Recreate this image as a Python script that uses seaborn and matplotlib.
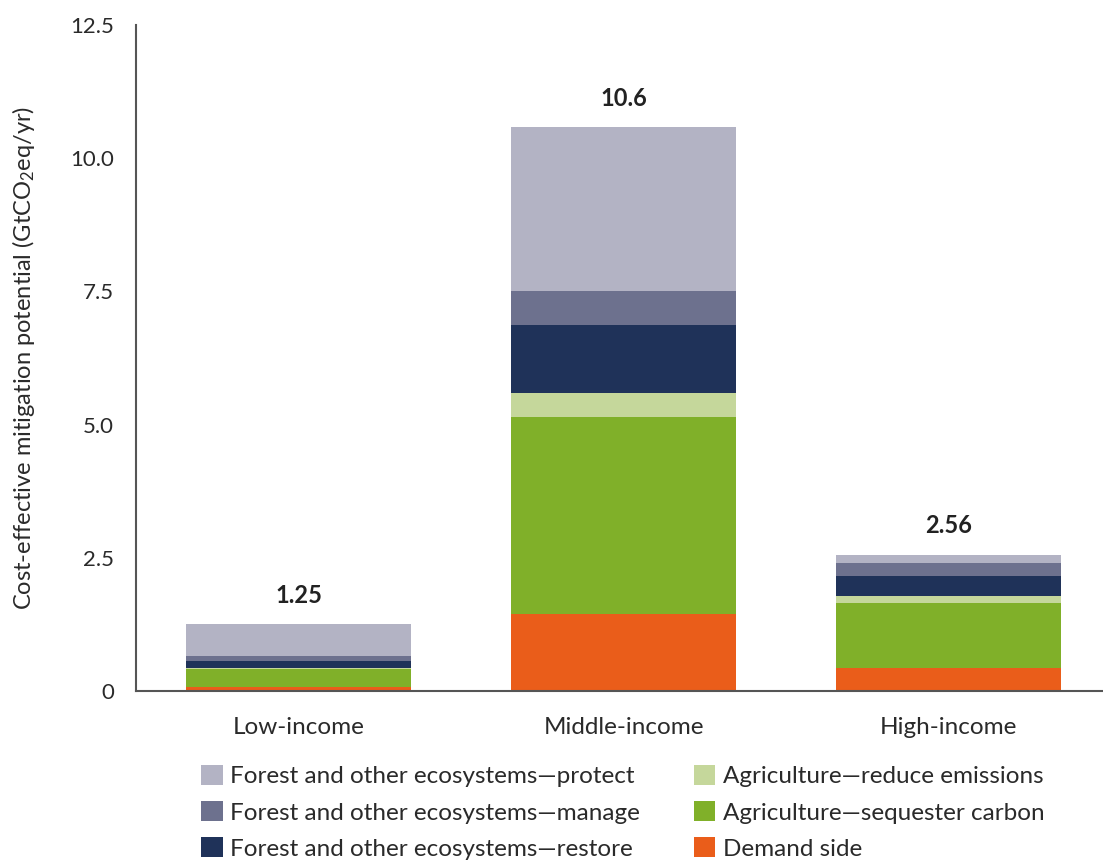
import matplotlib
matplotlib.use("Agg")
import matplotlib.pyplot as plt
import numpy as np
import pandas as pd
import seaborn as sns
from matplotlib.patches import Patch

incomes = ["Low-income", "Middle-income", "High-income"]
totals = ["1.25", "10.6", "2.56"]

# segments from the bottom of each bar upwards
categories = [
    "Demand side",
    "Agriculture\u2014sequester carbon",
    "Agriculture\u2014reduce emissions",
    "Forest and other ecosystems\u2014restore",
    "Forest and other ecosystems\u2014manage",
    "Forest and other ecosystems\u2014protect",
]
demand = [0.08, 1.44, 0.44]
sequester = [0.34, 3.70, 1.22]
reduce_em = [0.02, 0.45, 0.13]
restore = [0.13, 1.28, 0.36]
manage = [0.09, 0.63, 0.25]
protect = [0.59, 3.08, 0.16]

colors = ["#EA5D1A", "#80B029", "#C5D79B", "#1F3259", "#6D718E", "#B3B3C4"]


def main():
    sns.set_theme(style="white")
    plt.rcParams["font.family"] = ["Lato", "DejaVu Sans"]
    plt.rcParams["mathtext.default"] = "regular"
    text_col = "#2a2a2a"
    axis_col = "#555555"

    fig = plt.figure(figsize=(11.03, 8.63), dpi=100)
    ax = fig.add_axes([136 / 1103, 1 - 691 / 863, 1 - 136 / 1103, (691 - 25) / 863])

    series = [demand, sequester, reduce_em, restore, manage, protect]
    df = pd.DataFrame({"income": incomes})
    bottom = np.zeros(len(incomes))
    for name, vals, col in zip(categories, series, colors):
        df[name] = vals
        sns.barplot(data=df, x="income", y=name, bottom=bottom, color=col,
                    width=0.69, errorbar=None, saturation=1, linewidth=0,
                    edgecolor="none", ax=ax)
        bottom = bottom + np.array(vals)

    for i, (top, lab) in enumerate(zip(bottom, totals)):
        ax.annotate(lab, (i, top), xytext=(0, 21), textcoords="offset points",
                    ha="center", va="center", fontsize=17, fontweight="bold",
                    color="#222222")

    ax.set_xlim(-0.5, 2.475)
    ax.set_ylim(0, 12.5)
    ax.set_yticks([0, 2.5, 5.0, 7.5, 10.0, 12.5])
    ax.set_yticklabels(["0", "2.5", "5.0", "7.5", "10.0", "12.5"])
    ax.set_xticks([0, 1, 2])
    ax.set_xticks([-0.5, 0.5, 1.5], minor=True)
    ax.tick_params(axis="x", which="major", length=0, pad=19, labelsize=17.5, labelcolor=text_col)
    ax.tick_params(axis="x", which="minor", length=10, width=1.3, color=axis_col, direction="out")
    ax.tick_params(axis="y", length=10, width=1.3, color=axis_col, direction="out",
                   pad=6, labelsize=16, labelcolor=text_col)
    ax.set_xlabel("")
    ax.set_ylabel("Cost-effective mitigation potential (GtCO$_2$eq/yr)",
                  fontsize=17, color=text_col)
    ax.yaxis.set_label_coords(-99 / 967, 0.5)

    for side in ["top", "right"]:
        ax.spines[side].set_visible(False)
    for side in ["left", "bottom"]:
        ax.spines[side].set_color(axis_col)
        ax.spines[side].set_linewidth(1.5)

    order = [5, 4, 3, 2, 1, 0]
    handles = [Patch(facecolor=colors[k], edgecolor="none") for k in order]
    labels = [categories[k] for k in order]
    fig.legend(handles, labels, ncol=2, loc="upper left",
               bbox_to_anchor=(201 / 1103, 1 - 765 / 863), frameon=False,
               fontsize=17.5, handlelength=0.9, handleheight=0.9, handletextpad=0.3,
               columnspacing=2.2, labelspacing=0.56, borderpad=0, borderaxespad=0,
               labelcolor=text_col)

    fig.savefig("out.png", dpi=100)
    plt.close(fig)


if __name__ == "__main__":
    main()
